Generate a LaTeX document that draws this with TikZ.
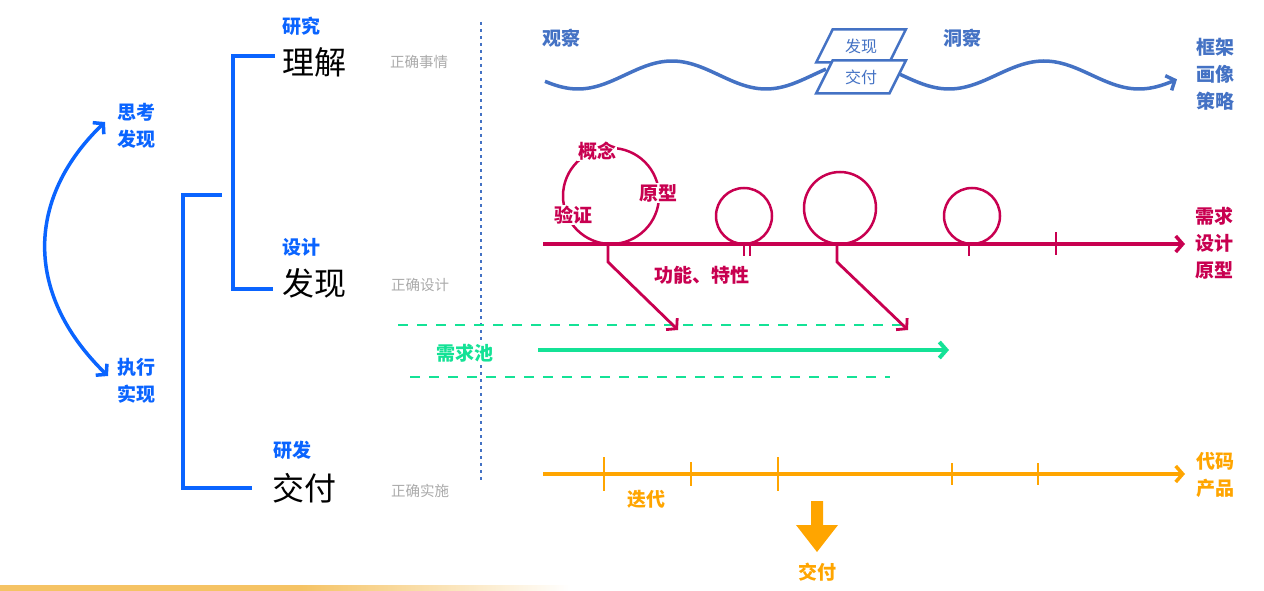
\documentclass[tikz,border=0pt]{standalone}
\usepackage{fontspec}
\setmainfont{Noto Sans CJK SC}
\usetikzlibrary{arrows.meta,positioning,shapes.geometric}
\definecolor{brandblue}{RGB}{10,100,255}
\definecolor{waveblue}{RGB}{68,114,196}
\definecolor{berry}{RGB}{200,0,80}
\definecolor{mint}{RGB}{20,226,150}
\definecolor{amber}{RGB}{255,165,0}
\definecolor{hintgrey}{RGB}{170,170,170}
\definecolor{barorange}{RGB}{245,195,100}

\begin{document}
\begin{tikzpicture}[x=1pt,y=-1pt,
            big/.style={font=\fontsize{32}{36}\selectfont,text=black,inner sep=0},
            tag/.style={font=\fontsize{19}{27}\selectfont\bfseries,inner sep=1,align=center},
            hint/.style={font=\fontsize{14.5}{16}\selectfont,text=hintgrey,inner sep=0},
            bracket/.style={draw=brandblue,line width=4},
            barb/.style={-{Straight Barb[length=7pt,width=16pt]}},
            para/.style={trapezium,trapezium left angle=58,trapezium right angle=122,trapezium stretches=true,
              draw=waveblue,line width=2.5,fill=white,minimum width=90,minimum height=33,inner sep=0,
              text=waveblue,font=\fontsize{16}{18}\selectfont},
            ring/.style={circle,draw=berry,line width=2.5,inner sep=0,outer sep=0},
            tick/.style={draw,line width=2.5},
            pool/.style={draw=mint,line width=2.2,dash pattern=on 10pt off 9pt}
          ]
          \useasboundingbox (0,0) rectangle (1264,591);

          %left loop
          \node[tag,text=brandblue] (think) at (136,126) {思考\\发现};
          \node[tag,text=brandblue] (act) at (136,381) {执行\\实现};
          \coordinate (thinktip) at (105,122);
          \coordinate (acttip) at (108,376);
          \draw[draw=brandblue,line width=3.5,{Straight Barb[length=7pt,width=16pt]}-{Straight Barb[length=7pt,width=16pt]}]
            (acttip) .. controls (22,292) and (28,196) .. (thinktip);

          %brackets
          \coordinate (outtop) at (222,195);
          \coordinate (outbot) at (252,488);
          \coordinate (intop) at (275,56);
          \coordinate (inbot) at (273,289);
          \draw[bracket] (outtop) -- (183,195) -- (183,488) -- (outbot);
          \draw[bracket] (intop) -- (233,56) -- (233,289) -- (inbot);

          %stages
          \node[tag,text=brandblue] (research) at (301,26) {研究};
          \node[big] (understand) at (314,62) {理解};
          \node[tag,text=brandblue] (design) at (301,247) {设计};
          \node[big] (discover) at (314,283) {发现};
          \node[tag,text=brandblue] (develop) at (292,450) {研发};
          \node[big] (deliver) at (304,488) {交付};
          \node[hint] at (419,62) {正确事情};
          \node[hint] at (420,285) {正确设计};
          \node[hint] at (420,491) {正确实施};

          %divider
          \coordinate (divtop) at (481,22);
          \coordinate (divbot) at (481,480);
          \draw[draw=waveblue,line width=2,dash pattern=on 3pt off 4pt] (divtop) -- (divbot);

          %insight wave
          \draw[draw=waveblue,line width=3.5] plot[domain=545:826,samples=80,smooth] (\x,{75+14*cos((\x-578)/188*360)});
          \draw[draw=waveblue,line width=3.5,barb] plot[domain=900:1177,samples=80,smooth] (\x,{75+14*cos((\x-949)/190*360)});
          \node[para] (findbox) at (861,46) {发现};
          \node[para] (givebox) at (861,77) {交付};
          \node[tag,text=waveblue] (observe) at (561,38) {观察};
          \node[tag,text=waveblue] (insight) at (962,38) {洞察};
          \node[tag,text=waveblue] (frame) at (1215,74) {框架\\画像\\策略};

          %design line
          \coordinate (dstart) at (543,244);
          \coordinate (dend) at (1185,244);
          \draw[draw=berry,line width=3.5,barb] (dstart) -- (dend);
          \node[ring,minimum size=96] (concept) at (611,196) {};
          \node[ring,minimum size=56] (loop2) at (744,216) {};
          \node[ring,minimum size=72] (loop3) at (840,208) {};
          \node[ring,minimum size=56] (loop4) at (972,216) {};
          \node[tag,text=berry,fill=white] at (597,151) {概念};
          \node[tag,text=berry,fill=white] at (658,193) {原型};
          \node[tag,text=berry,fill=white] at (573,215) {验证};
          \path[tick,draw=berry]
          (744,244) -- (744,256)
          (750,244) -- (750,256)
          (969,244) -- (969,256)
          (1056,232) -- (1056,255)
          ;
          \node[tag,text=berry] (feature) at (702,275) {功能、特性};
          \node[tag,text=berry] (need) at (1214,243) {需求\\设计\\原型};

          %requirement pool
          \coordinate (drop1) at (678,330);
          \coordinate (drop2) at (908,330);
          \draw[pool] (398,325) -- (905,325);
          \draw[pool] (410,377) -- (890,377);
          \draw[draw=berry,line width=2.8,barb] (608,244) -- (608,262) -- (drop1);
          \draw[draw=berry,line width=2.8,barb] (837,244) -- (837,262) -- (drop2);
          \node[tag,text=mint,fill=white] (poolname) at (465,353) {需求池};
          \coordinate (poolstart) at (538,350);
          \coordinate (poolend) at (949,350);
          \draw[draw=mint,line width=4,barb] (poolstart) -- (poolend);

          %delivery line
          \coordinate (ostart) at (543,474);
          \coordinate (oend) at (1185,474);
          \draw[draw=amber,line width=3.5,barb] (ostart) -- (oend);
          \path[tick,draw=amber]
          (604,457) -- (604,491)
          (691,462) -- (691,486)
          (778,457) -- (778,491)
          (952,463) -- (952,485)
          (1038,463) -- (1038,485)
          ;
          \node[tag,text=amber] (iterate) at (646,499) {迭代};
          \node[tag,text=amber] (code) at (1215,475) {代码\\产品};
          \fill[amber] (811,501) -- (823,501) -- (823,525) -- (838,525) -- (817,552) -- (796,525) -- (811,525) -- cycle;
          \node[tag,text=amber] (ship) at (817,572) {交付};

          %bottom bar
          \fill[barorange] (0,585) rectangle (300,591);
          \shade[left color=barorange,right color=white] (300,585) rectangle (570,591);
      \end{tikzpicture}
\end{document}
